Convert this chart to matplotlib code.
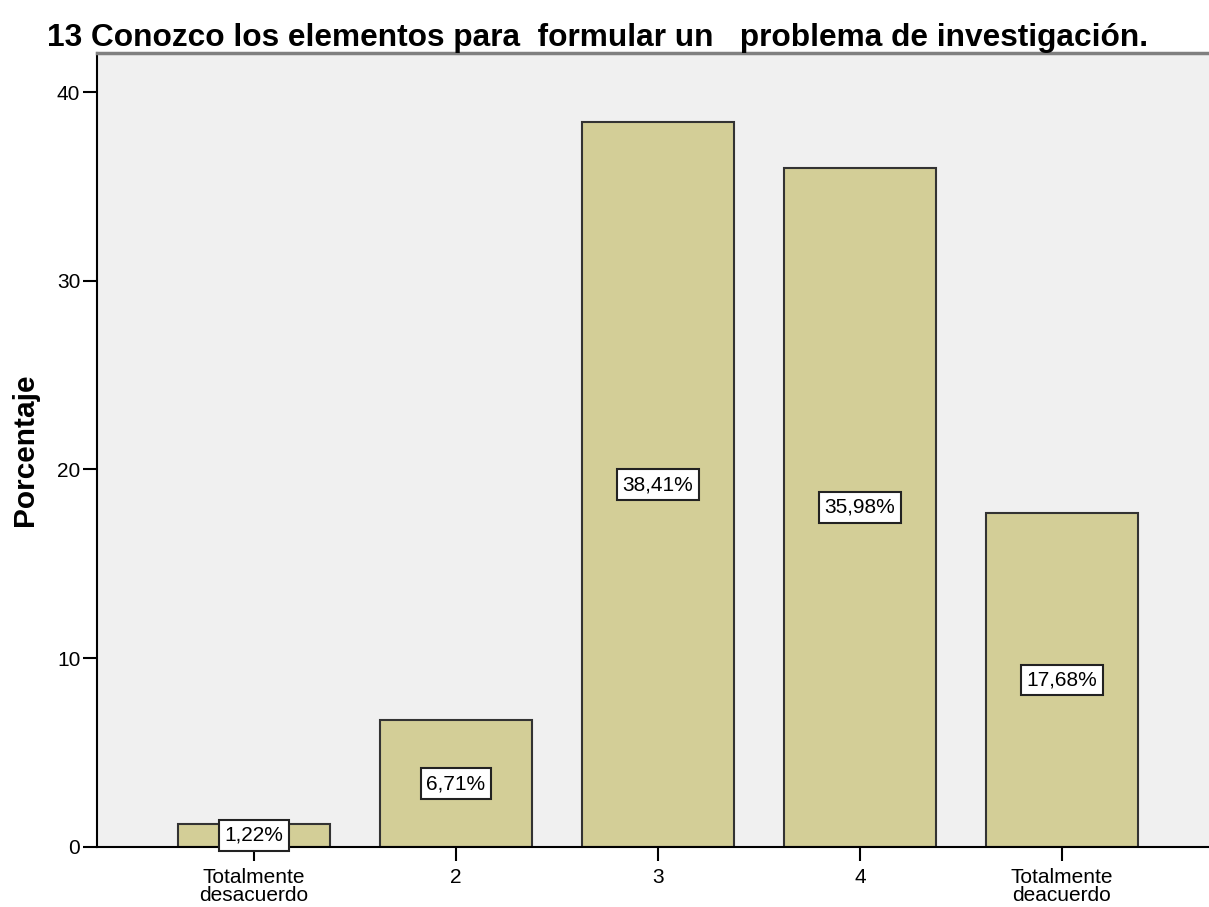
import matplotlib.pyplot as plt
import numpy as np

# Datos del gráfico
categorias = ['Totalmente\ndesacuerdo', '2', '3', '4', 'Totalmente\ndeacuerdo']
porcentajes = [1.22, 6.71, 38.41, 35.98, 17.68]
etiquetas = ['1,22%', '6,71%', '38,41%', '35,98%', '17,68%']
titulo = '13 Conozco los elementos para  formular un   problema de investigación.'

plt.rcParams['font.family'] = ['Liberation Sans', 'DejaVu Sans']

fig = plt.figure(figsize=(12.09, 9.07), dpi=100)
ax = fig.add_axes([0.0802, 0.0662, 0.9198, 0.8754])
ax.set_facecolor('#F0F0F0')

x = np.arange(len(categorias))
ax.bar(x, porcentajes, width=0.75, color='#D3CE97', edgecolor='#333333', linewidth=1.5)

# etiquetas de porcentaje en cajas blancas
for xi, v, t in zip(x, porcentajes, etiquetas):
    ax.text(xi, v / 2, t, ha='center', va='center', fontsize=15,
            bbox=dict(boxstyle='square,pad=0.28', facecolor='white', edgecolor='#222222', linewidth=1.5))

ax.set_xlim(-0.777, 4.728)
ax.set_ylim(0, 42.07)
ax.set_xticks(x)
ax.set_xticklabels(categorias, fontsize=15, linespacing=0.88)
ax.set_yticks([0, 10, 20, 30, 40])
ax.tick_params(axis='both', direction='out', length=10, width=1.5, labelsize=15, pad=2)
ax.tick_params(axis='x', pad=5.5)

ax.spines['right'].set_visible(False)
ax.spines['top'].set_color('#808080')
ax.spines['top'].set_linewidth(2.5)
ax.spines['left'].set_linewidth(1.5)
ax.spines['bottom'].set_linewidth(1.5)

ax.set_ylabel('Porcentaje', fontsize=21.5, fontweight='bold')
ax.yaxis.set_label_coords(-0.052, 0.5)
fig.text(0.0389, 0.958, titulo, fontsize=22.8, fontweight='bold', ha='left', va='center')

fig.savefig('out.png', dpi=100)
